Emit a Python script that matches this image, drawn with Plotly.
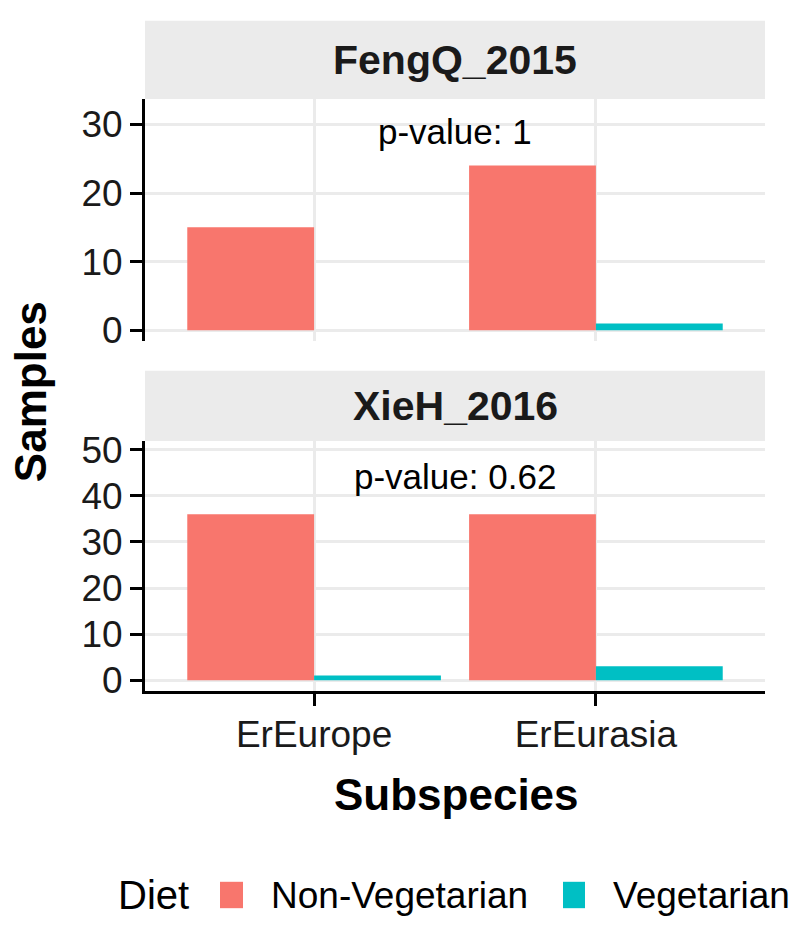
import plotly.graph_objects as go

W, H = 797, 926

subspecies = ["ErEurope", "ErEurasia"]
diets = ["Non-Vegetarian", "Vegetarian"]
colors = {"Non-Vegetarian": "#F8766D", "Vegetarian": "#00BFC4"}

feng_nonveg = [15, 24]
feng_veg = [0, 1]
xie_nonveg = [36, 36]
xie_veg = [1, 3]

studies = ["FengQ_2015", "XieH_2016"]
pvalues = ["p-value: 1", "p-value: 0.62"]
pval_y = [29.0, 44.3]

FONT = "Liberation Sans, Arial, sans-serif"

def py(pix):
    return 1 - pix / H

def px(pix):
    return pix / W

fig = go.Figure()

fig.add_trace(go.Bar(x=subspecies, y=feng_nonveg, name="Non-Vegetarian",
                     marker=dict(color=colors["Non-Vegetarian"], line=dict(width=0)),
                     xaxis="x", yaxis="y", showlegend=False))
fig.add_trace(go.Bar(x=subspecies, y=feng_veg, name="Vegetarian",
                     marker=dict(color=colors["Vegetarian"], line=dict(width=0)),
                     xaxis="x", yaxis="y", showlegend=False))
fig.add_trace(go.Bar(x=subspecies, y=xie_nonveg, name="Non-Vegetarian",
                     marker=dict(color=colors["Non-Vegetarian"], line=dict(width=0)),
                     xaxis="x2", yaxis="y2", showlegend=False))
fig.add_trace(go.Bar(x=subspecies, y=xie_veg, name="Vegetarian",
                     marker=dict(color=colors["Vegetarian"], line=dict(width=0)),
                     xaxis="x2", yaxis="y2", showlegend=False))

xl, xr = 145, 765
top_panel = (90, 338)
bot_panel = (440, 696)

grid = "#EBEBEB"
tickfont = dict(family=FONT, size=37, color="#1a1a1a")

common_x = dict(domain=[px(xl), px(xr)], range=[-0.6, 1.6], showgrid=True,
                gridcolor=grid, gridwidth=2.5, zeroline=False, fixedrange=True)

axis_y = dict(showgrid=True, gridcolor=grid, gridwidth=2.5, zeroline=False,
              showline=True, linecolor="black", linewidth=3,
              ticks="outside", ticklen=12, tickwidth=3, tickcolor="black",
              tickfont=tickfont)

fig.update_layout(
    width=W, height=H,
    margin=dict(l=0, r=0, t=0, b=0),
    paper_bgcolor="white", plot_bgcolor="white",
    barmode="group", bargap=0.1, bargroupgap=0,
    font=dict(family=FONT, color="black"),
    showlegend=False,
    xaxis=dict(**common_x, anchor="y", showticklabels=False, ticks="", showline=False),
    yaxis=dict(domain=[py(top_panel[1]), py(top_panel[0])], range=[-1.6, 33.7],
               tickvals=[0, 10, 20, 30], anchor="x", **axis_y),
    xaxis2=dict(**common_x, anchor="y2", showticklabels=True, ticks="outside",
                ticklen=12, tickwidth=3, tickcolor="black", showline=True,
                linecolor="black", linewidth=3, tickfont=tickfont,
                ticklabelstandoff=-4),
    yaxis2=dict(domain=[py(bot_panel[1]), py(bot_panel[0])], range=[-2.4, 51.9],
                tickvals=[0, 10, 20, 30, 40, 50], anchor="x2", **axis_y),
)

shapes = []
annotations = []
strip_rows = [(10, 90), (368, 440)]
for (t, b), name in zip(strip_rows, studies):
    shapes.append(dict(type="rect", xref="paper", yref="paper",
                       x0=px(xl), x1=px(xr), y0=py(b), y1=py(t),
                       fillcolor="#EBEBEB", line=dict(width=0), layer="below"))
    annotations.append(dict(xref="paper", yref="paper", x=px((xl + xr) / 2), y=py((t + b) / 2),
                            text="<b>%s</b>" % name, showarrow=False,
                            font=dict(family=FONT, size=41, color="#1a1a1a"),
                            xanchor="center", yanchor="middle"))

for ax, txt, yv in zip(["", "2"], pvalues, pval_y):
    annotations.append(dict(xref="x" + ax, yref="y" + ax, x=0.5, y=yv, text=txt,
                            showarrow=False, font=dict(family=FONT, size=35, color="black"),
                            xanchor="center", yanchor="middle"))

annotations.append(dict(xref="paper", yref="paper", x=px(456), y=py(802),
                        text="<b>Subspecies</b>", showarrow=False,
                        font=dict(family=FONT, size=44, color="black"),
                        xanchor="center", yanchor="middle"))
annotations.append(dict(xref="paper", yref="paper", x=px(30), y=py(390),
                        text="<b>Samples</b>", showarrow=False, textangle=-90,
                        font=dict(family=FONT, size=44, color="black"),
                        xanchor="center", yanchor="middle"))

legend_y = 905
annotations.append(dict(xref="paper", yref="paper", x=px(116), y=py(legend_y),
                        text="Diet", showarrow=False,
                        font=dict(family=FONT, size=40, color="black"),
                        xanchor="left", yanchor="middle"))
key_x = [(220, 243), (563, 585)]
text_x = [269, 611]
for d, (k0, k1), tx in zip(diets, key_x, text_x):
    shapes.append(dict(type="rect", xref="paper", yref="paper",
                       x0=px(k0), x1=px(k1), y0=py(918), y1=py(891),
                       fillcolor=colors[d], line=dict(width=0)))
    annotations.append(dict(xref="paper", yref="paper", x=px(tx), y=py(legend_y),
                            text=d, showarrow=False,
                            font=dict(family=FONT, size=37, color="black"),
                            xanchor="left", yanchor="middle"))

fig.update_layout(shapes=shapes, annotations=annotations)

fig.write_html("out.html")
